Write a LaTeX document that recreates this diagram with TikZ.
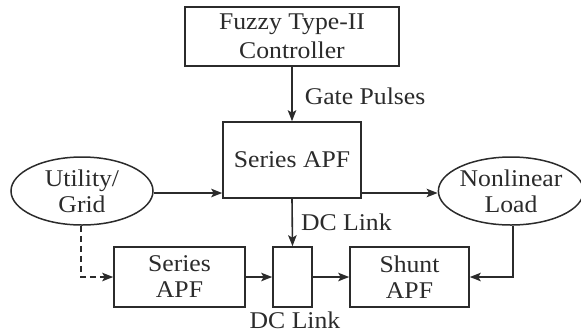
\documentclass[tikz,border=0pt]{standalone}
\usepackage{fontspec}
\setmainfont{Liberation Serif}[FakeStretch=1.07]
\usetikzlibrary{arrows.meta,shapes.geometric}
\definecolor{ink}{HTML}{2B2B2B}
\tikzset{
  every node/.style={text=ink, font=\fontsize{24}{26}\selectfont},
  box/.style={draw=ink, line width=1.6pt, rectangle, align=center, inner sep=0pt},
  oval/.style={draw=ink, line width=1.5pt, ellipse, align=center, inner sep=0pt},
  conn/.style={draw=ink, line width=1.6pt, -{Stealth[length=11pt,width=8.5pt,inset=2.5pt]}},
  lbl/.style={inner sep=0pt, anchor=west}
}
\begin{document}
\begin{tikzpicture}[x=1pt,y=-1pt]
\useasboundingbox (0,0) rectangle (581,333);
\node[box, minimum width=214pt, minimum height=59pt, font=\fontsize{24}{28.5}\selectfont] (fuzzy) at (292,36.5) {Fuzzy Type-II\\Controller};
\node[box, minimum width=138pt, minimum height=76pt] (sapf) at (292,160) {Series APF};
\node[oval, minimum width=142pt, minimum height=68pt] (util) at (82,191) {Utility/\\Grid};
\node[oval, minimum width=142pt, minimum height=68pt] (load) at (511,191) {Nonlinear\\Load};
\node[box, minimum width=131pt, minimum height=60pt] (sapf2) at (179.5,277) {Series\\APF};
\node[box, minimum width=39pt, minimum height=60pt] (dc) at (292.5,277) {};
\node[box, minimum width=119pt, minimum height=60pt] (shunt) at (409.5,277) {Shunt\\APF};
\node[inner sep=0pt] (dclbl) at (295,320) {DC Link};

\draw[conn] (fuzzy.south) -- node[lbl, pos=0.55, xshift=12pt] (gp) {Gate Pulses} (sapf.north);
\draw[conn] ([yshift=-2pt]util.east) -- ([yshift=-2pt]util.east -| sapf.west);
\draw[conn] ([yshift=-2pt]load.west -| sapf.east) -- ([yshift=-2pt]load.west);
\draw[conn] (sapf.south) -- node[lbl, pos=0.5, xshift=8pt] (dcl) {DC Link} (dc.north);
\draw[conn] (sapf2.east) -- (dc.west);
\draw[conn] (dc.east) -- (shunt.west);
\draw[conn] ([xshift=2pt]load.south) |- (shunt.east);
\draw[conn, dash pattern=on 6pt off 4pt] ([xshift=-1pt]util.south) |- (sapf2.west);
\end{tikzpicture}
\end{document}
